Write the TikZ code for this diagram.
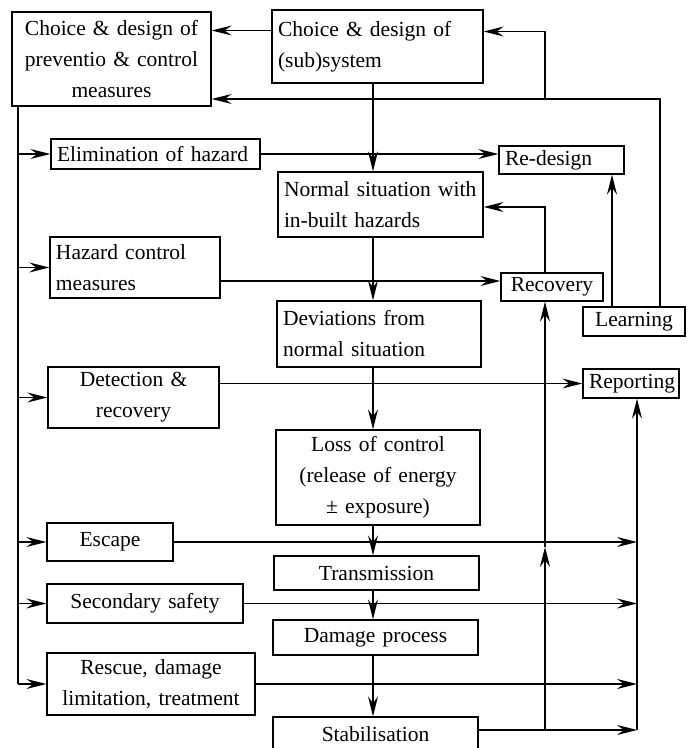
\documentclass[tikz,border=0pt]{standalone}
\usepackage{fontspec}
\setmainfont{Liberation Serif}
\usetikzlibrary{arrows.meta}
\tikzset{arr/.style={-{Stealth[length=20pt,width=10pt,inset=7pt]}}}
\tikzset{box/.style={draw,line width=1.3pt,inner xsep=6pt,inner ysep=0pt,font=\fontsize{21.5}{31}\selectfont}}

\begin{document}
\begin{tikzpicture}[x=1pt,y=1pt,line width=1.3pt]
        \useasboundingbox (0,0) rectangle (688,748);
        \coordinate (spine) at (373,0);
        \coordinate (feed) at (18,0);
        \coordinate (rbus) at (545,0);
        \coordinate (lbus) at (612,0);
        \coordinate (tbus) at (660,0);
        \coordinate (bus) at (637,0);
        \coordinate (topline) at (0,649);

        \node[box,text width=187pt,minimum height=94pt,align=center] (prev) at (111.5,689) {Choice \& design of\\preventio \& control\\measures};
        \node[box,text width=199pt,minimum height=73pt,align=left] (sys) at (377.5,701.5) {Choice \& design of\\(sub)system};
        \node[box,text width=197pt,minimum height=30pt,align=left] (elim) at (155.5,594) {Elimination of hazard};
        \node[box,text width=113pt,minimum height=28pt,align=left] (redes) at (561.5,588) {Re-design};
        \node[box,text width=193pt,minimum height=65pt,align=left] (normal) at (380.5,543.5) {Normal situation with\\in-built hazards};
        \node[box,text width=158pt,minimum height=61pt,align=left] (hazard) at (135,480.5) {Hazard control\\measures};
        \node[box,text width=90pt,minimum height=28pt,align=center] (recov) at (552,461) {Recovery};
        \node[box,text width=90pt,minimum height=29pt,align=center] (learn) at (634,426.5) {Learning};
        \node[box,text width=192pt,minimum height=66pt,align=left] (devia) at (379,414) {Deviations from\\normal situation};
        \node[box,text width=84pt,minimum height=29pt,align=center] (report) at (631,364.5) {Reporting};
        \node[box,text width=159pt,minimum height=61pt,align=center] (detect) at (133.5,350.5) {Detection \&\\recovery};
        \node[box,text width=192pt,minimum height=95pt,align=center] (loss) at (378,270.5) {Loss of control\\(release of energy\\± exposure)};
        \node[box,text width=114pt,minimum height=38pt,align=center] (escape) at (110,206) {Escape};
        \node[box,text width=193pt,minimum height=34pt,align=center] (trans) at (376.5,175) {Transmission};
        \node[box,text width=184pt,minimum height=39pt,align=center] (second) at (145,144.5) {Secondary safety};
        \node[box,text width=193pt,minimum height=35pt,align=center] (damage) at (375.5,110.5) {Damage process};
        \node[box,text width=196pt,minimum height=62pt,align=center] (rescue) at (151,64) {Rescue, damage\\limitation, treatment};
        \node[box,text width=193pt,minimum height=34pt,align=center] (stab) at (375.5,14) {Stabilisation};

        \draw[arr] ([yshift=16pt]sys.west) -- ([yshift=16pt]sys.west -| prev.east);
        \draw[arr] (learn.north -| tbus) |- (prev.east |- topline);
        \draw[arr] (rbus |- topline) |- ([yshift=15pt]sys.east);
        \draw[arr] (recov.north -| rbus) |- ([yshift=-2.5pt]normal.east);
        \draw[arr] (learn.north -| lbus) -- (redes.south -| lbus);
        \foreach \a/\b in {sys/normal,normal/devia,devia/loss,loss/trans,trans/damage,damage/stab}
            \draw[arr] (\a.south -| spine) -- (\b.north -| spine);

        \draw (prev.south -| feed) -- (rescue.west -| feed);
        \foreach \b in {elim,hazard,detect,escape,second,rescue}
            \draw[arr] (feed |- \b.west) -- (\b.west);

        \draw[arr] (elim.east) -- (elim.east -| redes.west);
        \draw[arr] ([yshift=6pt]recov.west -| hazard.east) -- ([yshift=6pt]recov.west);
        \draw[arr] (report.west -| detect.east) -- (report.west);
        \foreach \b in {escape,second,rescue}
            \draw[arr] (\b.east) -- (\b.east -| bus);
        \coordinate (stabout) at ([yshift=4pt]stab.east);
        \draw[arr] (stabout) -- (stabout -| bus);
        \draw[arr] (stabout -| bus) -- (report.south -| bus);
        \draw[arr] (stabout -| rbus) -- ([yshift=-5pt]escape.east -| rbus);
        \draw[arr] ([yshift=-5pt]escape.east -| rbus) -- (recov.south -| rbus);
\end{tikzpicture}
\end{document}
